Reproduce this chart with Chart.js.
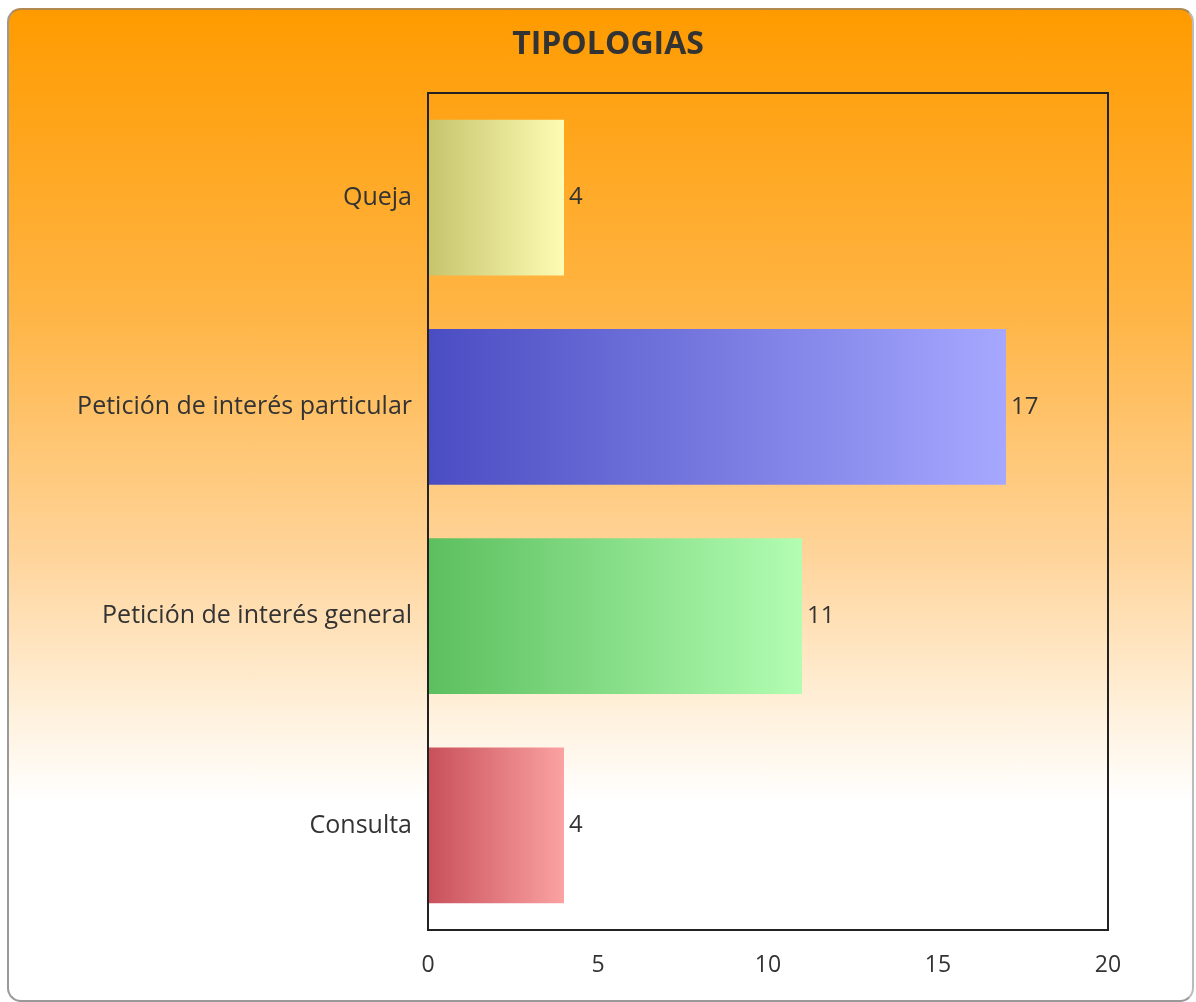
<!doctype html>
<html>

<head>
    <meta charset="utf-8">
    <title>Tipologias</title>
    <script src="https://cdn.jsdelivr.net/npm/chart.js"></script>
    <style>
        body { margin: 0; background: #fff; }
        #panel {
            position: absolute; left: 7px; top: 8px; width: 1183px; height: 990px;
            border: 2px solid #b08850; border-bottom-color: #999; border-left-color: #999; border-right-color: #bbb;
            border-radius: 14px;
            background: linear-gradient(to bottom, #ff9b00 0%, #ffb443 30%, #ffd49a 55%, #ffefd8 70%, #ffffff 80%, #ffffff 100%);
        }
        #tipologias { position: absolute; left: 0; top: 0; }
    </style>
</head>

<body>
    <div id="panel"></div>
    <canvas id="tipologias" width="1196" height="1002"></canvas>

    <script>

    const categorias = ['Queja', 'Petición de interés particular', 'Petición de interés general', 'Consulta'];
    const valores = [4, 17, 11, 4];
    const coloresInicio = ['#c6c46c', '#4a4cc2', '#5cbf5e', '#c8505a'];
    const coloresFin = ['#fdfcb4', '#a6a8ff', '#b2fdb2', '#fba2a2'];

        // marco del area de trazado y etiquetas de valor
        var marcoYValores = {
            id: 'marcoYValores',
            afterDatasetsDraw(chart) {
                var ctx = chart.ctx;
                var a = chart.chartArea;
                ctx.save();
                ctx.strokeStyle = '#222';
                ctx.lineWidth = 2;
                ctx.strokeRect(a.left, a.top, a.right - a.left, a.bottom - a.top);
                ctx.fillStyle = '#333';
                ctx.font = '24px "Open Sans"';
                ctx.textBaseline = 'middle';
                chart.getDatasetMeta(0).data.forEach((bar, i) => {
                    ctx.fillText(valores[i], bar.x + 5, bar.y);
                });
                ctx.restore();
            }
        };

        var grafico = new Chart(document.getElementById('tipologias').getContext('2d'), {
            type: 'bar',
            data: {
                labels: categorias,
                datasets: [{
                    data: valores,
                    backgroundColor: function (context) {
                        var chart = context.chart;
                        if (!chart.chartArea) return coloresInicio[context.dataIndex];
                        var xs = chart.scales.x;
                        var x0 = xs.getPixelForValue(0);
                        var x1 = xs.getPixelForValue(valores[context.dataIndex]);
                        var g = chart.ctx.createLinearGradient(x0, 0, x1, 0);
                        g.addColorStop(0, coloresInicio[context.dataIndex]);
                        g.addColorStop(1, coloresFin[context.dataIndex]);
                        return g;
                    },
                    borderWidth: 0,
                    categoryPercentage: 1,
                    barPercentage: 0.745
                }]
            },
            options: {
                indexAxis: 'y',
                responsive: false,
                animation: false,
                devicePixelRatio: 1,
                layout: { padding: { left: 20, right: 0, top: 0, bottom: 0 } },
                scales: {
                    x: {
                        min: 0,
                        max: 20,
                        ticks: { stepSize: 5, padding: 14, color: '#333', font: { family: 'Open Sans', size: 23 } },
                        grid: { display: false },
                        border: { display: false },
                        afterFit: function (scale) { scale.height = 72; }
                    },
                    y: {
                        ticks: { padding: 8, color: '#333', font: { family: 'Open Sans', size: 25 } },
                        grid: { display: false },
                        border: { display: false },
                        afterFit: function (scale) { scale.width = 408; }
                    },
                    y2: {
                        type: 'category',
                        labels: categorias,
                        position: 'right',
                        ticks: { display: false },
                        grid: { display: false, drawTicks: false },
                        border: { display: false },
                        afterFit: function (scale) { scale.width = 88; }
                    }
                },
                plugins: {
                    legend: { display: false },
                    tooltip: { enabled: false },
                    title: {
                        display: true,
                        text: 'TIPOLOGIAS',
                        color: '#333',
                        font: { family: 'Open Sans', size: 32, weight: 'bold', lineHeight: 1.2 },
                        padding: { top: 26, bottom: 28.6 }
                    }
                }
            },
            plugins: [marcoYValores]
        });

    </script>
</body>

</html>
